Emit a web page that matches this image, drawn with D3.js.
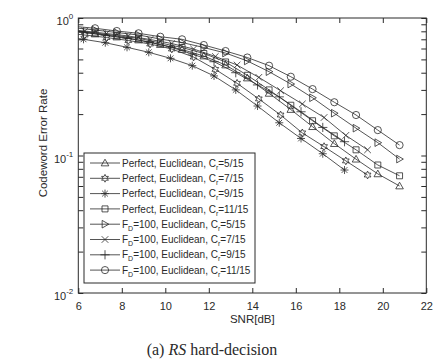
<!DOCTYPE html>
<html>
<head>
    <meta charset="utf-8">
    <title>RS hard-decision</title>
    <script src="https://cdnjs.cloudflare.com/ajax/libs/d3/7.8.5/d3.min.js"></script>
    <style>
        body { margin: 0; background: #fff; }
        text { font-family: "Liberation Sans", Arial, sans-serif; fill: #2a2a2a; }
    </style>
</head>
<body>
<script type="text/javascript">
    // SNR grids (each code rate has its own offset)
    var snrA = [5.77, 6.77, 7.77, 8.77, 9.77, 10.77, 11.77, 12.77, 13.77, 14.77, 15.77, 16.77, 17.77, 18.77, 19.77, 20.77];
    var snrB = [5.3, 6.3, 7.3, 8.3, 9.3, 10.3, 11.3, 12.3, 13.3, 14.3, 15.3, 16.3, 17.3, 18.3, 19.3];
    var snrC = [5.24, 6.24, 7.24, 8.24, 9.24, 10.24, 11.24, 12.24, 13.24, 14.24, 15.24, 16.24, 17.24, 18.24];

    var perfect5  = [0.80, 0.765, 0.727, 0.692, 0.641, 0.590, 0.529, 0.455, 0.366, 0.283, 0.216, 0.162, 0.122, 0.094, 0.0735, 0.060];
    var perfect7  = [0.78, 0.752, 0.721, 0.686, 0.647, 0.595, 0.520, 0.423, 0.335, 0.258, 0.197, 0.146, 0.116, 0.0914, 0.0721];
    var perfect9  = [0.735, 0.700, 0.661, 0.612, 0.563, 0.509, 0.450, 0.379, 0.300, 0.229, 0.173, 0.133, 0.103, 0.0784];
    var perfect11 = [0.81, 0.778, 0.743, 0.712, 0.658, 0.610, 0.552, 0.479, 0.383, 0.300, 0.232, 0.179, 0.139, 0.110, 0.0853, 0.0712];
    var fd5  = [0.85, 0.818, 0.784, 0.752, 0.703, 0.663, 0.610, 0.556, 0.487, 0.407, 0.331, 0.263, 0.203, 0.158, 0.124, 0.0942];
    var fd7  = [0.83, 0.804, 0.771, 0.740, 0.698, 0.652, 0.595, 0.525, 0.455, 0.370, 0.296, 0.237, 0.189, 0.140, 0.110];
    var fd9  = [0.82, 0.791, 0.752, 0.715, 0.669, 0.615, 0.547, 0.481, 0.400, 0.326, 0.267, 0.208, 0.160, 0.126];
    var fd11 = [0.87, 0.842, 0.804, 0.774, 0.731, 0.700, 0.636, 0.575, 0.516, 0.450, 0.374, 0.304, 0.244, 0.197, 0.153, 0.119];

    var xTicks = [6, 8, 10, 12, 14, 16, 18, 20, 22];
    var yDecades = [0.01, 0.1, 1];
    var yTickExp = ["-2", "-1", "0"];

    var series = [
        {pre: "Perfect, Euclidean, C", fd: false, rate: "=5/15",  x: snrA, y: perfect5,  m: "triUp"},
        {pre: "Perfect, Euclidean, C", fd: false, rate: "=7/15",  x: snrB, y: perfect7,  m: "hexagram"},
        {pre: "Perfect, Euclidean, C", fd: false, rate: "=9/15",  x: snrC, y: perfect9,  m: "asterisk"},
        {pre: "Perfect, Euclidean, C", fd: false, rate: "=11/15", x: snrA, y: perfect11, m: "square"},
        {pre: "=100, Euclidean, C",    fd: true,  rate: "=5/15",  x: snrA, y: fd5,  m: "triRight"},
        {pre: "=100, Euclidean, C",    fd: true,  rate: "=7/15",  x: snrB, y: fd7,  m: "x"},
        {pre: "=100, Euclidean, C",    fd: true,  rate: "=9/15",  x: snrC, y: fd9,  m: "plus"},
        {pre: "=100, Euclidean, C",    fd: true,  rate: "=11/15", x: snrA, y: fd11, m: "circle"}
    ];

    var width = 443, height = 362,
        pLeft = 78.3, pRight = 426.3, pTop = 18, pBottom = 293,
        ink = "#2a2a2a";

    var xScale = d3.scaleLinear().domain([6, 22]).range([pLeft, pRight]);
    var yScale = d3.scaleLog().domain([0.01, 1]).range([pBottom, pTop]);

    function marker(type){
        var r, k;
        switch(type){
            case "triUp":
                r = 3.8;
                return "M0," + (-r) + "L" + r + "," + (r * 0.75) + "L" + (-r) + "," + (r * 0.75) + "Z";
            case "triRight":
                r = 3.8;
                return "M" + r + ",0L" + (-r * 0.75) + "," + r + "L" + (-r * 0.75) + "," + (-r) + "Z";
            case "square":
                r = 3;
                return "M" + (-r) + "," + (-r) + "h" + (2 * r) + "v" + (2 * r) + "h" + (-2 * r) + "Z";
            case "circle":
                r = 3.6;
                return "M" + r + ",0A" + r + "," + r + " 0 1,1 " + (-r) + ",0A" + r + "," + r + " 0 1,1 " + r + ",0Z";
            case "x":
                r = 3.3;
                return "M" + (-r) + "," + (-r) + "L" + r + "," + r + "M" + (-r) + "," + r + "L" + r + "," + (-r);
            case "plus":
                r = 4.6;
                return "M" + (-r) + ",0H" + r + "M0," + (-r) + "V" + r;
            case "asterisk":
                r = 4; k = r * 0.72;
                return "M0," + (-r) + "V" + r + "M" + (-r) + ",0H" + r +
                    "M" + (-k) + "," + (-k) + "L" + k + "," + k + "M" + (-k) + "," + k + "L" + k + "," + (-k);
            case "hexagram":
                var pts = [];
                for (var i = 0; i < 12; i++) {
                    var rr = i % 2 ? 2.1 : 3.9, a = -Math.PI / 2 + i * Math.PI / 6;
                    pts.push([rr * Math.cos(a), rr * Math.sin(a)]);
                }
                return "M" + pts.join("L") + "Z";
        }
    }

    var svg = d3.select("body").append("svg")
        .attr("width", width)
        .attr("height", height);

    svg.append("defs").append("clipPath").attr("id", "plotclip")
        .append("rect")
        .attr("x", pLeft).attr("y", pTop)
        .attr("width", pRight - pLeft).attr("height", pBottom - pTop);

    // axes: ticks inside on all four sides
    svg.append("g")
        .attr("transform", "translate(0," + pBottom + ")")
        .call(d3.axisBottom(xScale).tickValues(xTicks).tickSize(-5).tickPadding(9).tickFormat(d3.format("d")))
        .call(function(g){
            g.select(".domain").remove();
            g.selectAll("line").attr("stroke", ink);
            g.selectAll("text").attr("font-size", 11).attr("fill", ink)
                .style("font-family", "'Liberation Sans', Arial, sans-serif");
        });
    svg.append("g")
        .attr("transform", "translate(0," + pTop + ")")
        .call(d3.axisTop(xScale).tickValues(xTicks).tickSize(-5).tickFormat(""))
        .call(function(g){ g.select(".domain").remove(); g.selectAll("line").attr("stroke", ink); });

    var yMinor = [];
    [0.01, 0.1].forEach(function(b){ for (var k = 2; k <= 9; k++) yMinor.push(b * k); });

    [[d3.axisLeft, pLeft], [d3.axisRight, pRight]].forEach(function(s){
        svg.append("g")
            .attr("transform", "translate(" + s[1] + ",0)")
            .call(s[0](yScale).tickValues(yDecades.concat(yMinor)).tickSize(-5).tickFormat(""))
            .call(function(g){ g.select(".domain").remove(); g.selectAll("line").attr("stroke", ink); });
    });

    svg.append("rect")
        .attr("x", pLeft).attr("y", pTop)
        .attr("width", pRight - pLeft).attr("height", pBottom - pTop)
        .attr("fill", "none").attr("stroke", ink).attr("stroke-width", 1);

    // y tick labels 10^n
    yDecades.forEach(function(v, i){
        var t = svg.append("text")
            .attr("x", pLeft - 5).attr("y", yScale(v) + 7)
            .attr("text-anchor", "end").attr("font-size", 11);
        t.append("tspan").text("10");
        t.append("tspan").attr("dy", -6).attr("font-size", 8).text(yTickExp[i]);
    });

    svg.append("text")
        .attr("x", (pLeft + pRight) / 2).attr("y", 323)
        .attr("text-anchor", "middle").attr("font-size", 11.5)
        .text("SNR[dB]");

    svg.append("text")
        .attr("transform", "translate(47,143) rotate(-90)")
        .attr("text-anchor", "middle").attr("font-size", 11.5)
        .text("Codeword Error Rate");

    // curves
    var line = d3.line()
        .x(function(p){ return xScale(p[0]); })
        .y(function(p){ return yScale(p[1]); });

    var plot = svg.append("g").attr("clip-path", "url(#plotclip)");

    series.forEach(function(s){
        var pts = s.x.map(function(v, i){ return [v, s.y[i]]; });
        plot.append("path")
            .attr("d", line(pts))
            .attr("fill", "none").attr("stroke", ink).attr("stroke-width", 0.8);
        plot.selectAll(null).data(pts).enter().append("path")
            .attr("transform", function(p){ return "translate(" + xScale(p[0]) + "," + yScale(p[1]) + ")"; })
            .attr("d", marker(s.m))
            .attr("fill", "none").attr("stroke", ink).attr("stroke-width", 0.8);
    });

    // legend
    var lg = svg.append("g");
    lg.append("rect")
        .attr("x", 84).attr("y", 153).attr("width", 171).attr("height", 130)
        .attr("fill", "#fff").attr("stroke", ink).attr("stroke-width", 1);

    series.forEach(function(s, i){
        var ly = 163 + i * 15.3;
        lg.append("line")
            .attr("x1", 90).attr("x2", 120).attr("y1", ly).attr("y2", ly)
            .attr("stroke", ink).attr("stroke-width", 0.8);
        lg.append("path")
            .attr("transform", "translate(105," + ly + ")")
            .attr("d", marker(s.m))
            .attr("fill", "none").attr("stroke", ink).attr("stroke-width", 0.8);
        var t = lg.append("text")
            .attr("x", 122).attr("y", ly + 3.6).attr("font-size", 10);
        if (s.fd) {
            t.append("tspan").text("F");
            t.append("tspan").attr("dy", 3).attr("font-size", 7).text("D");
            t.append("tspan").attr("dy", -3).text(s.pre);
        } else {
            t.append("tspan").text(s.pre);
        }
        t.append("tspan").attr("dy", 3).attr("font-size", 7).text("r");
        t.append("tspan").attr("dy", -3).text(s.rate);
    });

    // caption
    var cap = svg.append("text")
        .attr("x", 212).attr("y", 355)
        .attr("text-anchor", "middle").attr("font-size", 16)
        .style("font-family", "'Liberation Serif', 'Times New Roman', serif");
    cap.append("tspan").text("(a) ");
    cap.append("tspan").attr("font-style", "italic").text("RS");
    cap.append("tspan").text(" hard-decision");
</script>
</body>
</html>
